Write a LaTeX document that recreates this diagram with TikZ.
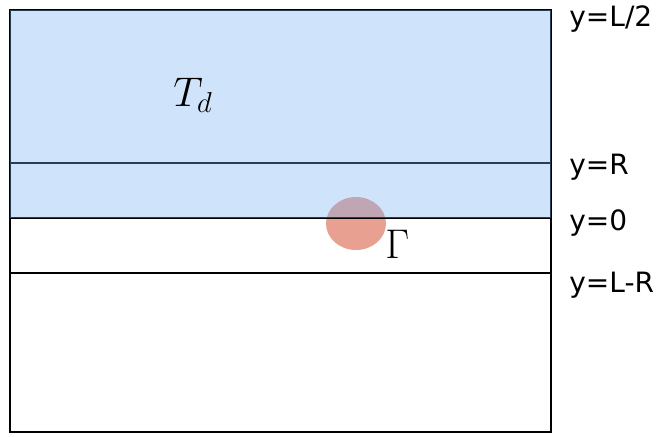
\documentclass[tikz,border=0pt]{standalone}
\usepackage{fontspec}
\newfontfamily\levelfont{DejaVu Sans}
\usetikzlibrary{positioning}

\definecolor{domainblue}{RGB}{118,178,241}
\definecolor{bumpsalmon}{RGB}{232,160,145}

\begin{document}
\begin{tikzpicture}[
    x=0.5pt, y=-0.5pt,
    wall/.style={draw=black, line width=1.4pt},
    cut/.style={draw=black, line width=1.3pt},
    level/.style={font=\levelfont\fontsize{14}{16}\selectfont, anchor=base west, inner sep=0pt},
    mathlabel/.style={font=\fontsize{20}{22}\selectfont, anchor=base west, inner sep=0pt}
]
    \useasboundingbox (0,0) rectangle (663,436);

    % bump at the interface
    \fill[bumpsalmon] (356,223.5) ellipse [x radius=30, y radius=26.5];

    % strip and levels
    \draw[wall] (10,10) rectangle (551,432);
    \draw[cut] (10,163) -- (551,163);
    \draw[cut] (10,218) -- (551,218);
    \draw[cut] (10,273) -- (551,273);

    % shaded domain
    \fill[domainblue, opacity=0.35] (10,10) rectangle (551,218);

    \node (td) [mathlabel] at (173,106) {$T_d$};
    \node (gamma) [mathlabel] at (385,258) {$\Gamma$};

    \node (half) [level] at (569,26) {y=L/2};
    \node (rr) [level] at (569,174) {y=R};
    \node (zero) [level] at (569,230) {y=0};
    \node (lmr) [level] at (569,292) {y=L-R};
\end{tikzpicture}
\end{document}
